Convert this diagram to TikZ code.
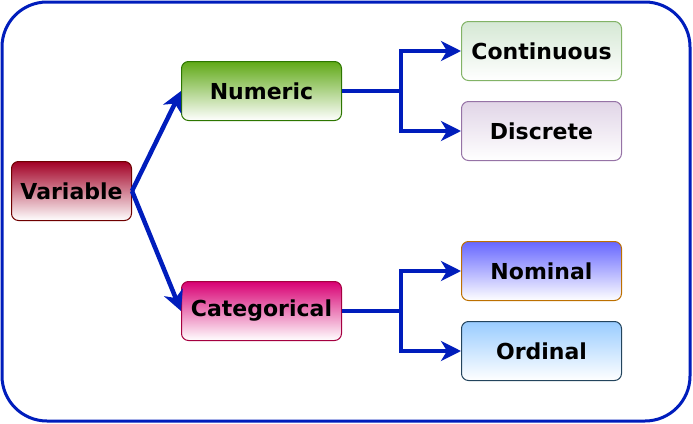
\documentclass[tikz,border=0pt]{standalone}
\usepackage{fontspec}
\setmainfont{DejaVu Sans}
\usetikzlibrary{arrows.meta}
\definecolor{edgeblue}{HTML}{001DBC}
\definecolor{varfill}{HTML}{A20025}\definecolor{varline}{HTML}{6F0000}
\definecolor{numfill}{HTML}{60A917}\definecolor{numline}{HTML}{2D7600}
\definecolor{catfill}{HTML}{D80073}\definecolor{catline}{HTML}{A50040}
\definecolor{confill}{HTML}{D5E8D4}\definecolor{conline}{HTML}{82B366}
\definecolor{disfill}{HTML}{E1D5E7}\definecolor{disline}{HTML}{9673A6}
\definecolor{nomfill}{HTML}{6666FF}\definecolor{nomline}{HTML}{BD7000}
\definecolor{ordfill}{HTML}{99CCFF}\definecolor{ordline}{HTML}{23445D}
\tikzset{
  box/.style={draw, rounded corners=7pt, minimum width=160pt, minimum height=59pt, line width=1pt,
    font=\fontsize{22}{26}\selectfont\bfseries, text=black, inner sep=0pt},
  conn/.style={draw=edgeblue, line width=4.5pt, -{Stealth[length=20pt,width=20pt,inset=6pt]}},
}
\begin{document}
\begin{tikzpicture}[x=1pt,y=-1pt]
\useasboundingbox (0,0) rectangle (693,423);
\draw[edgeblue, line width=3pt, rounded corners=45pt] (2,2) rectangle (690,421);
\node[box, minimum width=120pt, draw=varline, top color=varfill, bottom color=white] (var) at (71.5,191) {Variable};
\node[box, draw=numline, top color=numfill, bottom color=white] (num) at (261.5,91) {Numeric};
\node[box, draw=catline, top color=catfill, bottom color=white] (cat) at (261.5,311) {Categorical};
\node[box, draw=conline, top color=confill, bottom color=white] (con) at (541.5,51) {Continuous};
\node[box, draw=disline, top color=disfill, bottom color=white] (dis) at (541.5,131) {Discrete};
\node[box, draw=nomline, top color=nomfill, bottom color=white] (nom) at (541.5,271) {Nominal};
\node[box, draw=ordline, top color=ordfill, bottom color=white] (ord) at (541.5,351) {Ordinal};
\coordinate (j1) at (401,91);
\coordinate (j2) at (401,311);
\draw[conn] (var.east) -- (num.west);
\draw[conn] (var.east) -- (cat.west);
\draw[conn] (num.east) -- (j1) |- (con.west);
\draw[conn] (j1) |- (dis.west);
\draw[conn] (cat.east) -- (j2) |- (nom.west);
\draw[conn] (j2) |- (ord.west);
\end{tikzpicture}
\end{document}
